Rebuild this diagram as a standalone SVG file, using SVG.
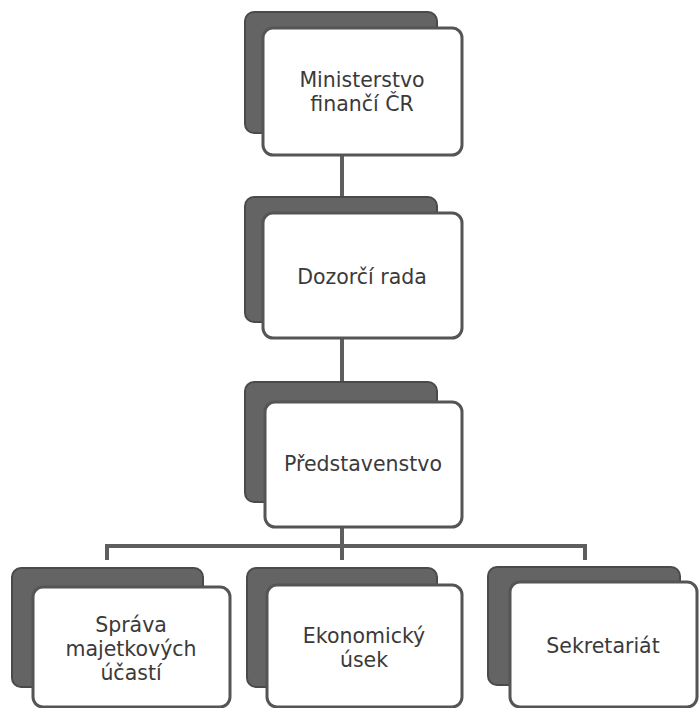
<svg xmlns="http://www.w3.org/2000/svg" width="699" height="708" viewBox="0 0 699 708">
<style>
.back{fill:#646464;stroke:#4a4a4a;stroke-width:2}
.front{fill:#ffffff;stroke:#555555;stroke-width:3}
.conn{fill:none;stroke:#5e5e5e;stroke-width:4}
text{font-family:"DejaVu Sans","Open Sans",sans-serif;font-size:20.5px;fill:#3a3a3a;text-anchor:middle}
</style>
<rect width="699" height="708" fill="#ffffff"/>
<g id="connectors">
<line class="conn" x1="342" y1="155" x2="342" y2="198"/>
<line class="conn" x1="342" y1="338" x2="342" y2="383"/>
<line class="conn" x1="342" y1="527" x2="342" y2="560"/>
<polyline class="conn" points="107,560 107,546 585,546 585,560"/>
</g>
<g id="n1">
<rect class="back" x="245" y="12" width="192" height="121" rx="9"/>
<rect class="front" x="263" y="28" width="199" height="127" rx="10"/>
<text x="362" y="87">Ministerstvo</text>
<text x="362" y="111">finančí ČR</text>
</g>
<g id="n2">
<rect class="back" x="245" y="197" width="192" height="125" rx="9"/>
<rect class="front" x="263" y="213" width="199" height="125" rx="10"/>
<text x="362" y="284">Dozorčí rada</text>
</g>
<g id="n3">
<rect class="back" x="245" y="382" width="192" height="120" rx="9"/>
<rect class="front" x="265" y="402" width="197" height="125" rx="10"/>
<text x="363" y="471">Představenstvo</text>
</g>
<g id="n4">
<rect class="back" x="12" y="568" width="191" height="119" rx="9"/>
<rect class="front" x="33" y="587" width="197" height="120" rx="10"/>
<text x="131" y="632">Správa</text>
<text x="131" y="656">majetkových</text>
<text x="131" y="680">účastí</text>
</g>
<g id="n5">
<rect class="back" x="247" y="568" width="190" height="119" rx="9"/>
<rect class="front" x="267" y="585" width="195" height="122" rx="10"/>
<text x="364" y="643">Ekonomický</text>
<text x="364" y="667">úsek</text>
</g>
<g id="n6">
<rect class="back" x="488" y="567" width="192" height="118" rx="9"/>
<rect class="front" x="510" y="582" width="187" height="125" rx="10"/>
<text x="603" y="653">Sekretariát</text>
</g>
</svg>
